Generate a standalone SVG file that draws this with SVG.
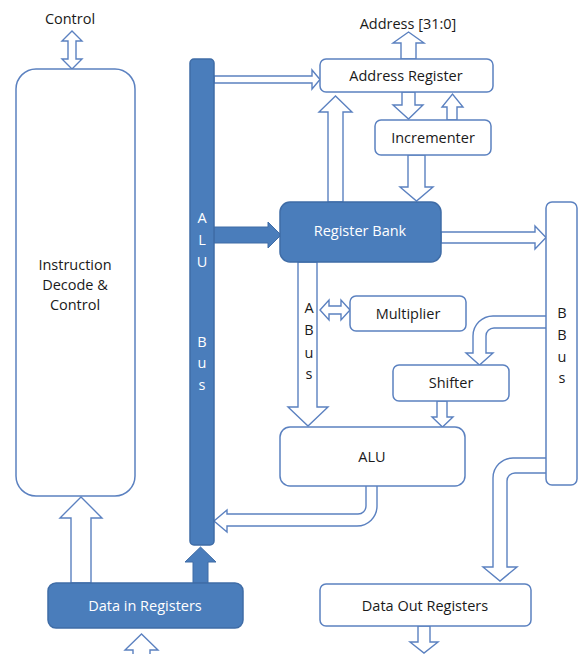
<svg xmlns="http://www.w3.org/2000/svg" width="583" height="654" viewBox="0 0 583 654">
<defs>
<style>
.box{fill:#ffffff;stroke:#5b81c0;stroke-width:1.5}
.dark{fill:#4a7dbb;stroke:#3f6ca6;stroke-width:1.5}
.ha{fill:#ffffff;stroke:#5b81c0;stroke-width:1.4;stroke-linejoin:miter}
.fa{fill:#4a7dbb;stroke:#3f6ca6;stroke-width:1}
.t{font-family:"Open Sans","Liberation Sans",sans-serif;font-size:14.5px;fill:#1a1a1a;text-anchor:middle}
.w{fill:#ffffff}
</style>
</defs>
<rect width="583" height="654" fill="#ffffff"/>
<g id="connectors">
<polygon class="ha" points="72,31 82,41 76,41 76,59 82,59 72,69 62,59 68,59 68,41 62,41"/>
<polygon class="ha" points="408.5,32 424,43 416,43 416,59 401,59 401,43 393,43"/>
<polygon class="ha" points="214,76 312,76 312,70 320,79.5 312,89 312,83 214,83"/>
<polygon class="ha" points="402,92 402,105 393,105 408.5,119 423,105 415,105 415,92"/>
<polygon class="ha" points="447,120 447,107 442,107 452.5,94 463,107 457,107 457,120"/>
<polygon class="ha" points="408,155 408,187 400,187 416.5,201 433,187 425,187 425,155"/>
<polygon class="ha" points="328,202 328,112 319,112 335.5,96 352,112 343,112 343,202"/>
<polygon class="fa" points="214,227 268,227 268,222 281,235 268,248 268,243 214,243"/>
<polygon class="ha" points="441,232 535,232 535,226 546,237.5 535,249 535,243 441,243"/>
<polygon class="ha" points="298,262 298,407 288,407 308,426 328,407 317,407 317,262"/>
<polygon class="ha" points="320,310 329,300 329,306 341,306 341,300 350,310 341,320 341,314 329,314 329,320"/>
<path class="ha" d="M546,316 H493 A20,20 0 0 0 473,336 V353 H466 L479.5,365 L493,353 H486 V336 A8,8 0 0 1 494,328 H546"/>
<polygon class="ha" points="437,401 437,417 432,417 442.5,427 453,417 447,417 447,401"/>
<path class="ha" d="M366,486 V506 A8,8 0 0 1 358,514 H227 V510 L214,521 L227,532 V526 H357 A20,20 0 0 0 377,506 V486"/>
<path class="ha" d="M546,458 H513 A20,20 0 0 0 493,478 V567 H483 L500,581 L517,567 H507 V481 A8,8 0 0 1 515,473 H546"/>
<polygon class="ha" points="418,626 418,642 410,642 424,653 438,642 430,642 430,626"/>
<polygon class="fa" points="193,583 193,562 185,562 200.5,547 216,562 208,562 208,583"/>
<polygon class="ha" points="71,583 71,518 60,518 81,497 102,518 91,518 91,583"/>
<path class="ha" d="M133,660 V650 H125 L141.5,634 L158,650 H150 V660"/>
</g>
<text class="t" x="70" y="24">Control</text>
<text class="t" x="408" y="29">Address [31:0]</text>
<g id="instruction-decode">
<rect class="box" x="16" y="69" width="119" height="427" rx="20"/>
<text class="t" x="75" y="270">Instruction</text>
<text class="t" x="75" y="290">Decode &amp;</text>
<text class="t" x="75" y="310">Control</text>
</g>
<g id="alu-bus">
<rect class="dark" x="190" y="59" width="24" height="486" rx="4"/>
<text class="t w" x="202" y="223">A</text>
<text class="t w" x="202" y="245">L</text>
<text class="t w" x="202" y="267">U</text>
<text class="t w" x="202" y="347">B</text>
<text class="t w" x="202" y="368">u</text>
<text class="t w" x="202" y="390">s</text>
</g>
<g id="address-register">
<rect class="box" x="320" y="59" width="173" height="33" rx="6"/>
<text class="t" x="406" y="81">Address Register</text>
</g>
<g id="incrementer">
<rect class="box" x="375" y="120" width="116" height="35" rx="6"/>
<text class="t" x="433" y="143">Incrementer</text>
</g>
<g id="register-bank">
<rect class="dark" x="280" y="202" width="161" height="60" rx="10"/>
<text class="t w" x="360" y="236">Register Bank</text>
</g>
<g id="b-bus">
<rect class="box" x="546" y="202" width="31" height="283" rx="6"/>
<text class="t" x="562" y="318">B</text>
<text class="t" x="562" y="340">B</text>
<text class="t" x="562" y="362">u</text>
<text class="t" x="562" y="383">s</text>
</g>
<g id="a-bus-label">
<text class="t" x="309" y="313">A</text>
<text class="t" x="309" y="335">B</text>
<text class="t" x="309" y="358">u</text>
<text class="t" x="309" y="379">s</text>
</g>
<g id="multiplier">
<rect class="box" x="350" y="296" width="116" height="35" rx="6"/>
<text class="t" x="408" y="319">Multiplier</text>
</g>
<g id="shifter">
<rect class="box" x="393" y="365" width="116" height="36" rx="6"/>
<text class="t" x="451" y="388">Shifter</text>
</g>
<g id="alu">
<rect class="box" x="280" y="427" width="185" height="59" rx="10"/>
<text class="t" x="372" y="462">ALU</text>
</g>
<g id="data-in-registers">
<rect class="dark" x="48" y="583" width="195" height="45" rx="8"/>
<text class="t w" x="145" y="611">Data in Registers</text>
</g>
<g id="data-out-registers">
<rect class="box" x="320" y="584" width="211" height="42" rx="6"/>
<text class="t" x="425" y="611">Data Out Registers</text>
</g>
</svg>
